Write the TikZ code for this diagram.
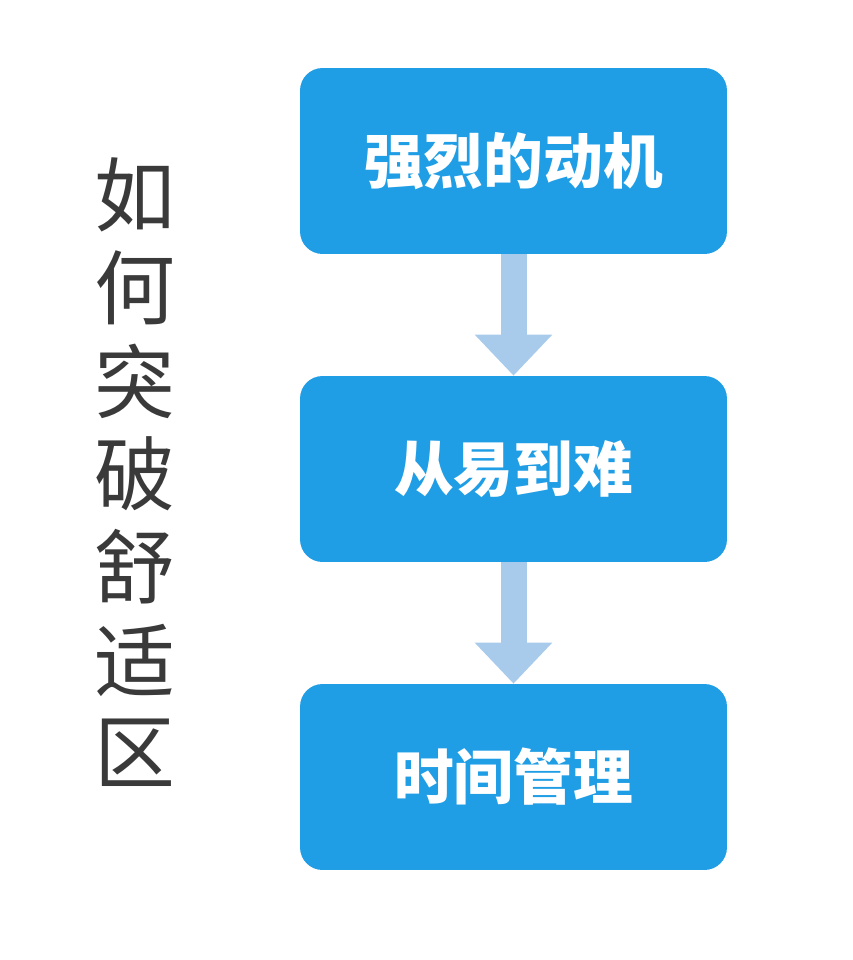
\documentclass[tikz,border=0pt]{standalone}
\usepackage{fontspec}
\usetikzlibrary{arrows.meta}
\newfontfamily\cjk{Noto Sans CJK SC}
\definecolor{boxblue}{HTML}{1F9DE5}
\definecolor{arrblue}{HTML}{A8CBEB}
\definecolor{titlegray}{HTML}{3A3A3A}
\begin{document}
\begin{tikzpicture}[x=0.02cm,y=-0.02cm,
  stepbox/.style={fill=boxblue,rounded corners=0.45cm,minimum width=8.54cm,minimum height=3.72cm,inner sep=0pt,text=white,font=\cjk\bfseries\fontsize{34}{40}\selectfont},
  titlechar/.style={text=titlegray,font=\cjk\fontsize{46}{50}\selectfont,inner sep=0pt},
  flow/.style={arrblue,line width=0.52cm,-{Triangle[width=1.5cm,length=0.82cm]}}]
\useasboundingbox (0,0) rectangle (852,960);
\node[stepbox] (a) at (513.5,161) {强烈的动机};
\node[stepbox] (b) at (513.5,469) {从易到难};
\node[stepbox] (c) at (513.5,777) {时间管理};
\draw[flow] (a.south) -- (b.north);
\draw[flow] (b.south) -- (c.north);
\foreach \ch [count=\i from 0] in {如,何,突,破,舒,适,区}
  \node[titlechar] (t\i) at (135,195+93*\i) {\ch};
\end{tikzpicture}
\end{document}
